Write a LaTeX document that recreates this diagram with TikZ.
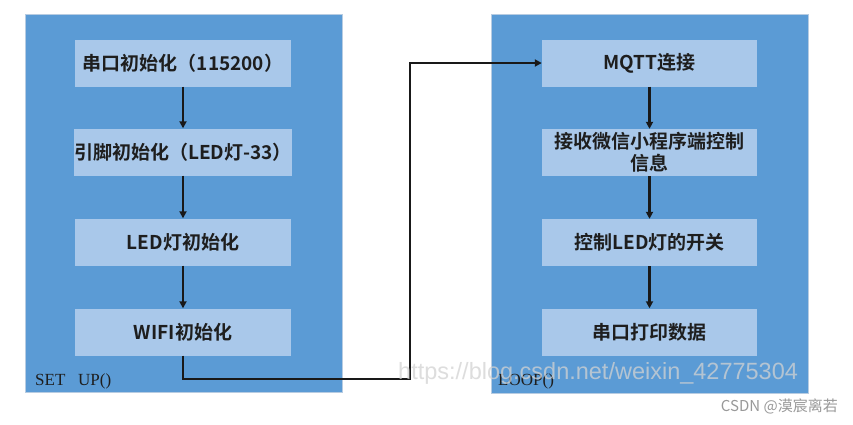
\documentclass[tikz,border=0pt]{standalone}
\usepackage{fontspec}
\setmainfont{Liberation Serif}
\newfontfamily\cjk{Noto Sans CJK SC}[BoldFont={Noto Sans CJK SC Bold}]
\newfontfamily\wmfont{Liberation Sans}
\usetikzlibrary{arrows.meta}
\definecolor{panelblue}{HTML}{5B9BD5}
\definecolor{panelline}{HTML}{B7CCE2}
\definecolor{boxfill}{HTML}{A9C8EA}
\definecolor{txt}{HTML}{1E1E1E}
\tikzset{
  panel/.style={fill=panelblue, draw=panelline, line width=0.8pt},
  stepbox/.style={fill=boxfill, draw=none, minimum width=216pt, minimum height=47pt,
    inner sep=0pt, text=txt, font=\cjk\bfseries\fontsize{19}{22}\selectfont, align=center},
  flow/.style={line width=2.4pt, draw=black!90, -{Triangle[length=7pt,width=7pt]}},
  plabel/.style={font=\fontsize{17}{17}\selectfont, text=txt, anchor=west, inner sep=0pt},
}
\begin{document}
\begin{tikzpicture}[x=1pt,y=-1pt]
\useasboundingbox (0,0) rectangle (853,424);
\fill[white] (0,0) rectangle (853,424);
% panels
\draw[panel] (25,14) rectangle (342,392);
\draw[panel] (491,14) rectangle (808,393);
% left boxes
\node[stepbox] (l1) at (183,63) {串口初始化（115200）};
\node[stepbox] (l2) at (183,152) {引脚初始化（LED灯-33）};
\node[stepbox] (l3) at (183,242) {LED灯初始化};
\node[stepbox] (l4) at (183,332) {WIFI初始化};
% right boxes
\node[stepbox, minimum width=215pt] (r1) at (649.5,63) {MQTT连接};
\node[stepbox, minimum width=215pt] (r2) at (649.5,152.5) {接收微信小程序端控制\\信息};
\node[stepbox, minimum width=215pt] (r3) at (649.5,242.5) {控制LED灯的开关};
\node[stepbox, minimum width=215pt] (r4) at (649.5,332) {串口打印数据};
% panel labels
\node[plabel] (su) at (35,381) {SET\ \ \ UP()};
\node[plabel] (lp) at (498,381) {LOOP()};
% arrows
\draw[flow] (l1) -- (l2);
\draw[flow] (l2) -- (l3);
\draw[flow] (l3) -- (l4);
\draw[flow] (r1) -- (r2);
\draw[flow] (r2) -- (r3);
\draw[flow] (r3) -- (r4);
\coordinate (c1) at (410,379);
\draw[flow] (l4.south) |- (c1) |- (r1.west);
% watermarks
\node[font=\wmfont\fontsize{23.5}{23.5}\selectfont, text=gray!35, opacity=0.75, anchor=west, inner sep=0pt] (wm) at (398,373) {https://blog.csdn.net/weixin\_42775304};
\node[font=\cjk\fontsize{15}{15}\selectfont, text=gray!80, anchor=east, inner sep=0pt] (cs) at (838,406) {CSDN @漠宸离若};
\end{tikzpicture}
\end{document}
